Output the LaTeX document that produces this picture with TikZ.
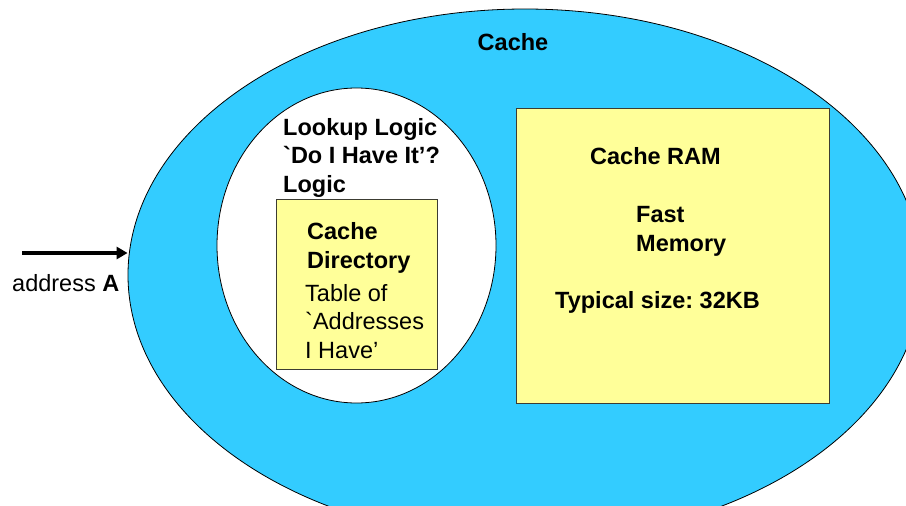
\documentclass[tikz,border=0pt]{standalone}
\usepackage{fontspec}
\setmainfont{Liberation Sans}[Ligatures=TeXOff]
\frenchspacing
\usetikzlibrary{shapes.geometric,arrows.meta}
\definecolor{cacheblue}{RGB}{51,204,255}
\definecolor{memyellow}{RGB}{255,255,153}
\definecolor{boxline}{RGB}{60,60,50}
\begin{document}
\begin{tikzpicture}[x=1pt,y=-1pt,
  region/.style={ellipse,draw=black,line width=0.8pt,inner sep=0pt},
  membox/.style={draw=boxline,line width=0.9pt,fill=memyellow},
  txt/.style={inner sep=0pt,anchor=base west,align=left,
    font=\fontsize{23.5}{28.4}\selectfont\frenchspacing},
  btxt/.style={txt,font=\fontsize{23.5}{28.4}\selectfont\bfseries\frenchspacing}]
  \path[use as bounding box] (0,0) rectangle (906,506);
  \clip (0,0) rectangle (906,506);

  % the cache as a whole
  \node[region,fill=cacheblue,minimum width=794pt,minimum height=532pt]
    (cache) at (525,275) {};
  \node[btxt,anchor=base] (cachelbl) at (513,50) {Cache};

  % lookup logic region (multi-line nodes sit on their last baseline)
  \node[region,fill=white,minimum width=279pt,minimum height=315pt]
    (lookup) at (356.5,245.5) {};
  \node[btxt] (lookuplbl) at (283,192) {Lookup Logic\\`Do I Have It’?\\Logic};

  % cache directory
  \draw[membox] (276,199) rectangle (437,369);
  \node[btxt] (dirlbl) at (307,268) {Cache\\Directory};
  \node[txt] (dirtxt) at (305,358) {Table of\\`Addresses\\I Have’};

  % cache RAM
  \draw[membox] (516,108) rectangle (829,403);
  \node[btxt] (ramlbl) at (590,164) {Cache RAM};
  \node[btxt] (fastlbl) at (636,251) {Fast\\Memory};
  \node[btxt] (sizelbl) at (555,308) {Typical size: 32KB};

  % incoming address
  \coordinate (addrin) at (22,253);
  \draw[line width=3.4pt,-{Triangle[length=11pt,width=12pt]}]
    (addrin) -- (cache.west |- addrin);
  \node[txt] (addrlbl) at (12,291) {address \textbf{A}};
\end{tikzpicture}
\end{document}
